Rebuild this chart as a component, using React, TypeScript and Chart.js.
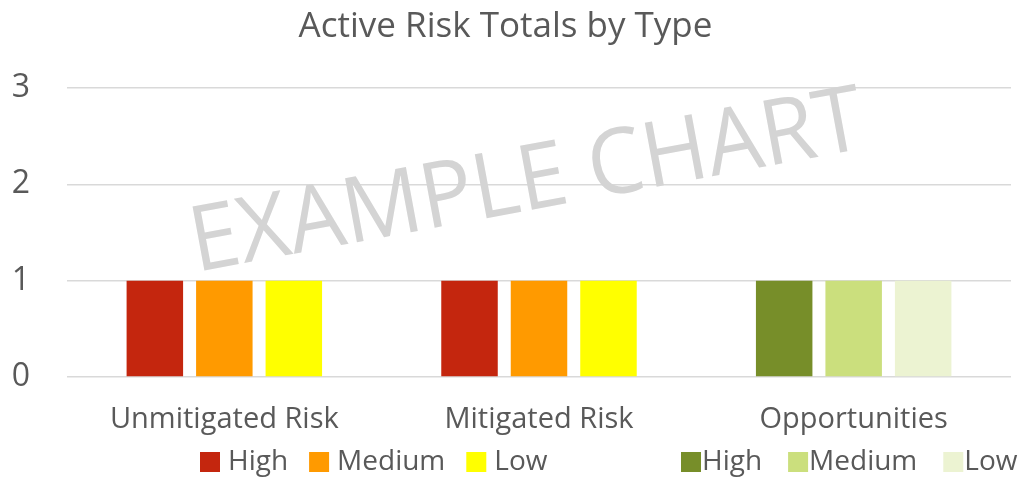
import React, { useEffect, useRef } from "react";
import { Chart, registerables } from "chart.js";

Chart.register(...registerables);

const categories = ["Unmitigated Risk", "Mitigated Risk", "Opportunities"];
const levels = ["High", "Medium", "Low"];
const riskHigh = [1, 1, null];
const riskMedium = [1, 1, null];
const riskLow = [1, 1, null];
const oppHigh = [null, null, 1];
const oppMedium = [null, null, 1];
const oppLow = [null, null, 1];
const riskColors = ["#C4260E", "#FF9A00", "#FFFF00"];
const oppColors = ["#778E29", "#CBDF7D", "#ECF3D2"];
const yTicks = [0, 1, 2, 3];
const titleText = "Active Risk Totals by Type";
const watermarkText = "EXAMPLE CHART";

const FONT = "'Open Sans', sans-serif";
const TEXT = "#595959";

const watermarkPlugin = {
  id: "watermark",
  beforeDatasetsDraw(chart: any) {
    const { ctx } = chart;
    ctx.save();
    const size = 91;
    ctx.font = `${size}px ${FONT}`;
    const w = ctx.measureText(watermarkText).width;
    const targetLen = 683;
    ctx.translate(196, 272);
    ctx.rotate((-10.5 * Math.PI) / 180);
    ctx.scale(targetLen / w, 1);
    ctx.fillStyle = "#D4D4D4";
    ctx.textAlign = "left";
    ctx.textBaseline = "alphabetic";
    ctx.fillText(watermarkText, 0, 0);
    ctx.restore();
  },
};

const legendGroups = [
  { start: 200, colors: riskColors, boxGap: 8, itemGap: 21 },
  { start: 681, colors: oppColors, boxGap: 1, itemGap: 26 },
];

const dualLegendPlugin = {
  id: "dualLegend",
  afterDraw(chart: any) {
    const { ctx } = chart;
    ctx.save();
    ctx.font = `28px ${FONT}`;
    ctx.textBaseline = "middle";
    ctx.textAlign = "left";
    const cy = 462;
    const box = 20;
    legendGroups.forEach((g) => {
      let x = g.start;
      levels.forEach((lbl, i) => {
        ctx.fillStyle = g.colors[i];
        ctx.fillRect(x, cy - box / 2, box, box);
        x += box + g.boxGap;
        ctx.fillStyle = TEXT;
        ctx.fillText(lbl, x, cy);
        x += ctx.measureText(lbl).width + g.itemGap;
      });
    });
    ctx.restore();
  },
};

export default function App() {
  const ref = useRef<HTMLCanvasElement>(null);
  useEffect(() => {
    document.body.style.margin = "0";
    const mk = (label: string, data: (number | null)[], color: string, stack: string) => ({
      label,
      data,
      backgroundColor: color,
      borderWidth: 0,
      stack,
      categoryPercentage: 0.6625,
      barPercentage: 0.813,
    });
    const chart = new Chart(ref.current!, {
      type: "bar",
      data: {
        labels: categories,
        datasets: [
          mk("Risk " + levels[0], riskHigh, riskColors[0], "h"),
          mk("Risk " + levels[1], riskMedium, riskColors[1], "m"),
          mk("Risk " + levels[2], riskLow, riskColors[2], "l"),
          mk("Opportunity " + levels[0], oppHigh, oppColors[0], "h"),
          mk("Opportunity " + levels[1], oppMedium, oppColors[1], "m"),
          mk("Opportunity " + levels[2], oppLow, oppColors[2], "l"),
        ],
      },
      options: {
        responsive: false,
        animation: false,
        layout: { padding: { left: 0, right: 9, top: 0, bottom: 0 } },
        plugins: {
          legend: { display: false },
          tooltip: { enabled: false },
          title: {
            display: true,
            text: titleText,
            color: TEXT,
            font: { family: FONT, size: 35, weight: "normal" },
            padding: { top: 6, bottom: 40 },
          },
        },
        scales: {
          x: {
            grid: { display: false, drawTicks: false },
            border: { display: false },
            ticks: {
              color: TEXT,
              font: { family: FONT, size: 29 },
              padding: 25,
              maxRotation: 0,
            },
            afterFit(s: any) {
              s.height = 102;
            },
          },
          y: {
            min: 0,
            max: 3,
            afterBuildTicks(s: any) {
              s.ticks = yTicks.map((v) => ({ value: v }));
            },
            grid: { color: "#D9D9D9", lineWidth: 1.5, drawTicks: false },
            border: { display: false },
            ticks: {
              color: TEXT,
              font: { family: FONT, size: 32 },
              padding: 37,
            },
            afterFit(s: any) {
              s.width = 67;
            },
          },
        },
      },
      plugins: [watermarkPlugin, dualLegendPlugin],
    });
    return () => chart.destroy();
  }, []);
  return <canvas ref={ref} width={1020} height={479} style={{ display: "block" }} />;
}
